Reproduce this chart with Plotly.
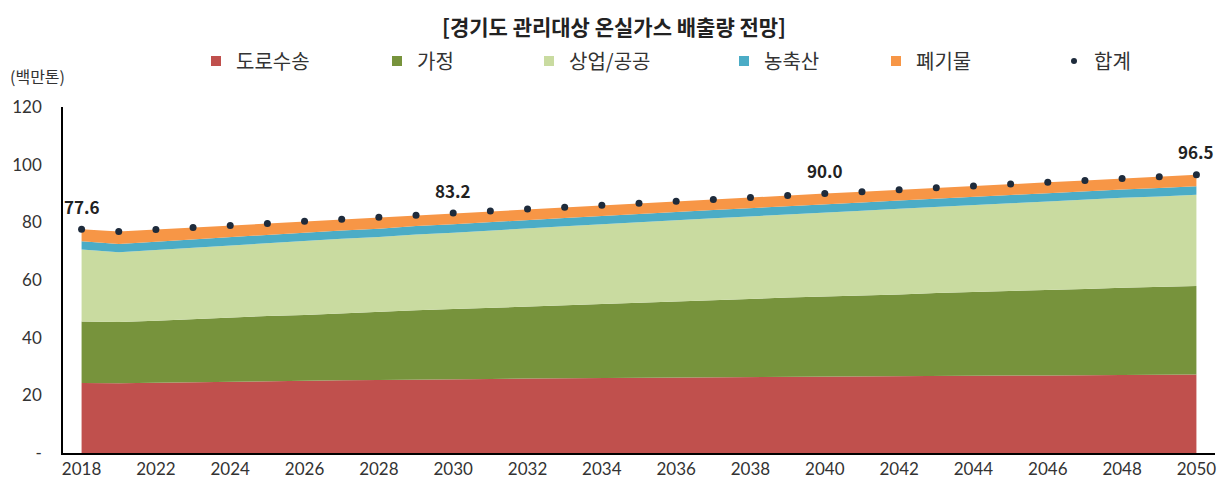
import plotly.graph_objects as go

years = ["2018"] + [str(y) for y in range(2021, 2051)]

road = [24.3, 24.2, 24.4, 24.6, 24.7, 24.9, 25.0, 25.2, 25.3, 25.5, 25.6, 25.7, 25.8, 25.9, 26.0, 26.1,
        26.2, 26.3, 26.4, 26.5, 26.6, 26.6, 26.7, 26.8, 26.8, 26.9, 26.9, 27.0, 27.1, 27.1, 27.2]
home = [21.3, 21.2, 21.5, 21.9, 22.2, 22.6, 22.9, 23.3, 23.6, 24.0, 24.3, 24.7, 25.0, 25.4, 25.7, 26.0,
        26.4, 26.7, 27.0, 27.4, 27.7, 28.0, 28.3, 28.7, 29.0, 29.3, 29.6, 29.9, 30.2, 30.4, 30.7]
commercial = [25.0, 24.2, 24.5, 24.7, 25.0, 25.2, 25.5, 25.8, 26.0, 26.3, 26.5, 26.8, 27.1, 27.3, 27.6, 27.8,
              28.1, 28.4, 28.6, 28.9, 29.1, 29.4, 29.7, 29.9, 30.2, 30.4, 30.7, 31.0, 31.2, 31.5, 31.7]
agri = [2.8, 2.9, 2.9, 2.9, 2.9, 2.9, 2.9, 2.9, 2.9, 2.9, 2.9, 2.9, 2.9, 2.9, 2.9, 2.9,
        2.9, 2.9, 2.9, 2.9, 2.9, 2.9, 2.9, 2.9, 2.9, 2.9, 2.9, 2.9, 2.9, 2.9, 2.9]
waste = [4.2, 4.3, 4.2, 4.1, 4.1, 4.0, 4.1, 3.9, 4.0, 3.8, 3.9, 3.8, 3.8, 3.7, 3.7, 3.8,
         3.7, 3.6, 3.7, 3.6, 3.7, 3.7, 3.7, 3.7, 3.7, 3.8, 3.8, 3.7, 3.8, 3.9, 4.0]
total = [77.6, 76.8, 77.5, 78.2, 78.9, 79.6, 80.4, 81.1, 81.8, 82.5, 83.2, 83.9, 84.6, 85.2, 85.9, 86.6,
         87.3, 87.9, 88.6, 89.3, 90.0, 90.6, 91.3, 92.0, 92.6, 93.3, 93.9, 94.5, 95.2, 95.8, 96.5]
label_years = ["2018", "2030", "2040", "2050"]

series_names = ["도로수송", "가정", "상업/공공", "농축산", "폐기물"]
series_vals = [road, home, commercial, agri, waste]
colors = ["#C0504D", "#77933C", "#C9DBA0", "#4BACC6", "#F79646"]
dot_color = "#1E2B3C"

y_ticks = [0, 20, 40, 60, 80, 100, 120]
y_ticktext = ["-", "20", "40", "60", "80", "100", "120"]
x_ticks = years[::2]

KR = "Noto Sans CJK KR"
NUM = "Lato"

# page body has an 8px margin, so figure coords = screen coords - 8
OFF = 8
W, H = 1211, 474
plot_l, plot_r = 63 - OFF, 1215 - OFF
plot_t, plot_b = 107 - OFF, 453 - OFF
plot_w, plot_h = plot_r - plot_l, plot_b - plot_t

fig = go.Figure()
for name, vals, col in zip(series_names, series_vals, colors):
    fig.add_trace(go.Scatter(
        x=years, y=vals, name=name, stackgroup="one", mode="lines",
        line=dict(width=0, color=col), fillcolor=col, showlegend=False, hoverinfo="skip"))

fig.add_trace(go.Scatter(
    x=years, y=total, name="합계", mode="markers",
    marker=dict(color=dot_color, size=7), showlegend=False, hoverinfo="skip"))

# legend entries (separate legends for precise placement)
legend_text_px = [236, 417, 569, 764, 916, 1094]
for i, (name, col) in enumerate(zip(series_names + ["합계"], colors + [dot_color])):
    key = "legend" if i == 0 else f"legend{i + 1}"
    sym = "square" if i < 5 else "circle"
    size = 10 if i < 5 else 6
    fig.add_trace(go.Scatter(
        x=[None], y=[None], name=name, mode="markers",
        marker=dict(symbol=sym, color=col, size=size), legend=key, showlegend=True))
    fig.update_layout({key: dict(
        orientation="h", x=(legend_text_px[i] - OFF - 40 - plot_l) / plot_w, xanchor="left",
        y=1 + (plot_t - (61 - OFF)) / plot_h, yanchor="middle", bgcolor="rgba(0,0,0,0)",
        font=dict(family=KR, size=20, color="#333333"), itemclick=False)})

for yr in label_years:
    i = years.index(yr)
    fig.add_annotation(x=i, y=total[i], text=f"<b>{total[i]:.1f}</b>", showarrow=False,
                       yshift=23, font=dict(family=KR, size=17, color="#222222"))

fig.add_annotation(xref="paper", yref="paper", x=(0 - plot_l) / plot_w,
                   y=1 + (plot_t - (76 - OFF)) / plot_h,
                   xanchor="left", yanchor="middle", text="(백만톤)", showarrow=False,
                   font=dict(family=KR, size=16, color="#333333"))

# chart title
fig.add_annotation(xref="paper", yref="paper", x=(614 - OFF - plot_l) / plot_w,
                   y=1 + (plot_t - 1) / plot_h, xanchor="center", yanchor="top",
                   text="<b>[경기도 관리대상 온실가스 배출량 전망]</b>", showarrow=False,
                   font=dict(family=KR, size=21, color="#222222"))

fig.update_layout(
    width=W, height=H,
    margin=dict(l=plot_l, r=W - plot_r, t=plot_t, b=H - plot_b, autoexpand=False),
    paper_bgcolor="white", plot_bgcolor="white",
    xaxis=dict(type="category", range=[-0.5, 30.5], tickmode="array", tickvals=x_ticks,
               ticktext=x_ticks, showline=True, linecolor="#000000", linewidth=1.5,
               showgrid=False, ticks="", tickfont=dict(family=NUM, size=17, color="#333333"),
               zeroline=False),
    yaxis=dict(range=[0, 120], tickmode="array", tickvals=y_ticks, ticktext=y_ticktext,
               showline=True, linecolor="#000000", linewidth=1.5, showgrid=False, ticks="",
               ticklabelstandoff=16, tickfont=dict(family=NUM, size=17, color="#333333"),
               zeroline=False),
    hovermode=False,
)

fig.write_html("out.html")
